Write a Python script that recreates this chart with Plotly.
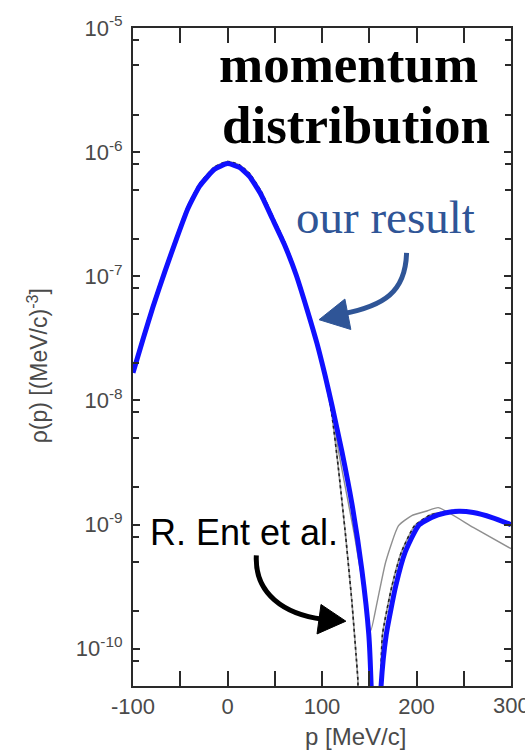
import plotly.graph_objects as go

# ---- data: momentum distribution rho(p) in (MeV/c)^-3 ----
p_ours = [-100, -89.5, -78.9, -66.3, -53.7, -42, -29.5, -13.7, 0, 12.6, 23.2, 35.8,
          47.4, 60, 72.6, 84, 94.7, 103, 110.5, 121, 131.6, 142.1, 149.5, 152, 157,
          162.5, 168, 178, 188, 202, 216, 230, 245, 260, 280, 300]
rho_ours = [1.67e-8, 3.1e-8, 5.66e-8, 1.09e-7, 2.03e-7, 3.5e-7, 5.33e-7, 7.27e-7,
            8.10e-7, 7.53e-7, 6.38e-7, 4.5e-7, 2.92e-7, 1.82e-7, 1.03e-7, 5.46e-8,
            2.88e-8, 1.62e-8, 9.16e-9, 3.9e-9, 1.48e-9, 4.37e-10, 1.31e-10, 5e-11,
            1e-12, 5e-11, 1.3e-10, 3.2e-10, 6.0e-10, 9.8e-10, 1.14e-9, 1.24e-9,
            1.28e-9, 1.25e-9, 1.14e-9, 1.0e-9]

p_ent1 = [-100, -89.5, -78.9, -66.3, -53.7, -42, -29.5, -13.7, 0, 12.6, 23.2, 35.8,
          47.4, 60, 72.6, 84, 94.7, 103, 110.5, 117, 125, 131.6, 136, 138, 140.5,
          158, 162, 164, 174, 184, 198, 215, 230, 260, 300]
rho_ent1 = [1.77e-8, 3.3e-8, 6.0e-8, 1.15e-7, 2.15e-7, 3.7e-7, 5.6e-7, 7.6e-7,
            8.4e-7, 7.9e-7, 6.75e-7, 4.8e-7, 3.1e-7, 1.93e-7, 1.09e-7, 5.7e-8,
            2.9e-8, 1.55e-8, 7.6e-9, 3.0e-9, 8.1e-10, 2.4e-10, 9e-11, 5.5e-11, 1e-12,
            1e-12, 5e-11, 1.3e-10, 3.2e-10, 6.0e-10, 9.8e-10, 1.2e-9, 1.26e-9,
            1.24e-9, 1.0e-9]

p_ent2 = [-100, -89.5, -78.9, -66.3, -53.7, -42, -29.5, -13.7, 0, 12.6, 23.2, 35.8,
          47.4, 60, 72.6, 84, 94.7, 103, 110.5, 118, 134, 145, 151.6, 158, 167.4,
          181, 195, 210, 223, 260, 300]
rho_ent2 = [1.67e-8, 3.1e-8, 5.66e-8, 1.09e-7, 2.03e-7, 3.5e-7, 5.33e-7, 7.27e-7,
            8.10e-7, 7.53e-7, 6.38e-7, 4.5e-7, 2.92e-7, 1.82e-7, 1.03e-7, 5.46e-8,
            2.88e-8, 1.6e-8, 8.5e-9, 3.7e-9, 8.5e-10, 2.7e-10, 1.4e-10, 2.3e-10,
            5.0e-10, 9.8e-10, 1.18e-9, 1.28e-9, 1.37e-9, 9.5e-10, 6.4e-10]

x_ticks = [-100, 0, 100, 200]
x_ticktext = ["-100", "0", "100", "200"]
x_last = 300
x_minor = [-50, 50, 150, 250]
y_ticks = [1e-10, 1e-9, 1e-8, 1e-7, 1e-6, 1e-5]
y_ticktext = ["10<sup>-10</sup>", "10<sup>-9</sup>", "10<sup>-8</sup>",
              "10<sup>-7</sup>", "10<sup>-6</sup>", "10<sup>-5</sup>"]
y_minor = [m * 10.0 ** e for e in range(-11, -5) for m in (2, 5, 8)]

# ---- layout geometry (pixels) ----
W, H = 525, 752
L, R, T, B = 133, 513, 16, 686
X_MIN, X_MAX = -100, 300


def px(x):
    return (x - L) / (R - L)


def py(y):
    return (B - y) / (B - T)


fig = go.Figure()

fig.add_trace(go.Scatter(x=p_ent2, y=rho_ent2, mode="lines",
                         line=dict(color="#8f8f8f", width=1.4, shape="spline", smoothing=0.5),
                         showlegend=False))
fig.add_trace(go.Scatter(x=p_ent1, y=rho_ent1, mode="lines",
                         line=dict(color="#9a9a9a", width=1.6, shape="spline", smoothing=0.5),
                         showlegend=False))
fig.add_trace(go.Scatter(x=p_ent1, y=rho_ent1, mode="lines",
                         line=dict(color="#222222", width=1.6, dash="dot", shape="spline",
                                   smoothing=0.5),
                         showlegend=False))
fig.add_trace(go.Scatter(x=p_ours, y=rho_ours, mode="lines",
                         line=dict(color="#1010ff", width=5, shape="spline", smoothing=0.5),
                         showlegend=False))

tick_font = dict(family="Liberation Sans, Arial, sans-serif", size=22, color="#4a4a4a")
axis_common = dict(showline=True, linecolor="#2a2a2a", linewidth=2, mirror="ticks",
                   ticks="inside", tickcolor="#2a2a2a", tickwidth=2,
                   showgrid=False, zeroline=False, tickfont=tick_font)

fig.update_xaxes(range=[X_MIN, X_MAX], tickmode="array", tickvals=x_ticks + [x_last],
                 ticktext=x_ticktext + [""], ticklen=15,
                 minor=dict(tickmode="array", tickvals=x_minor, ticks="inside",
                            ticklen=15, tickwidth=2, tickcolor="#2a2a2a"),
                 **axis_common)
fig.update_yaxes(type="log", range=[-10.30, -5], tickmode="array", tickvals=y_ticks,
                 ticktext=y_ticktext, ticklen=7, ticklabelstandoff=4,
                 minor=dict(tickmode="array", tickvals=y_minor, ticks="inside",
                            ticklen=6, tickwidth=2, tickcolor="#2a2a2a"),
                 **axis_common)

ann = []
# last x tick label sits on the figure edge
ann.append(dict(text=str(x_last), x=x_last, y=py(706), xref="x", yref="paper",
                showarrow=False, xanchor="center", yanchor="middle", font=tick_font))
# axis titles
ann.append(dict(text="p [MeV/c]", x=px(357), y=py(737), xref="paper", yref="paper",
                showarrow=False, xanchor="center", yanchor="middle",
                font=dict(family="Liberation Sans, Arial, sans-serif", size=24,
                          color="#4a4a4a")))
ann.append(dict(text="ρ(p) [(MeV/c)<sup>-3</sup>]", x=px(37), y=py(360), xref="paper",
                yref="paper", showarrow=False, textangle=-90,
                xanchor="center", yanchor="middle",
                font=dict(family="Liberation Sans, Arial, sans-serif", size=23,
                          color="#4a4a4a")))
# labels inside the plot
ann.append(dict(text="<b>momentum</b>", x=px(350), y=py(53), xref="paper", yref="paper",
                showarrow=False, xanchor="center", yanchor="middle",
                font=dict(family="Liberation Serif, Times New Roman, serif", size=53,
                          color="black")))
ann.append(dict(text="<b>distribution</b>", x=px(357), y=py(115), xref="paper",
                yref="paper", showarrow=False, xanchor="center", yanchor="middle",
                font=dict(family="Liberation Serif, Times New Roman, serif", size=53,
                          color="black")))
ann.append(dict(text="our result", x=px(387), y=py(208), xref="paper", yref="paper",
                showarrow=False, xanchor="center", yanchor="middle",
                font=dict(family="Liberation Serif, Times New Roman, serif", size=47,
                          color="#2f5597")))
ann.append(dict(text="R. Ent et al.", x=px(245), y=py(530), xref="paper", yref="paper",
                showarrow=False, xanchor="center", yanchor="middle",
                font=dict(family="Liberation Sans, Arial, sans-serif", size=36,
                          color="black")))


def curve(pts):
    (x0, y0), (x1, y1), (x2, y2), (x3, y3) = pts
    return (f"M {px(x0)},{py(y0)} C {px(x1)},{py(y1)} {px(x2)},{py(y2)} "
            f"{px(x3)},{py(y3)}")


def tri(pts):
    s = " L ".join(f"{px(x)},{py(y)}" for x, y in pts)
    return f"M {s} Z"


shapes = [
    # curved arrow pointing to our result
    dict(type="path", xref="paper", yref="paper",
         path=curve([(408, 245), (407, 285), (385, 299), (344, 307)]),
         line=dict(color="#2f5597", width=5)),
    dict(type="path", xref="paper", yref="paper",
         path=tri([(320, 313), (346, 292), (352, 323)]),
         fillcolor="#2f5597", line=dict(color="#2f5597", width=1)),
    # curved arrow pointing to R. Ent et al.
    dict(type="path", xref="paper", yref="paper",
         path=curve([(257, 553), (255, 592), (285, 613), (324, 618)]),
         line=dict(color="black", width=5)),
    dict(type="path", xref="paper", yref="paper",
         path=tri([(347, 620), (322, 603), (318, 633)]),
         fillcolor="black", line=dict(color="black", width=1)),
]

fig.update_layout(width=W, height=H, margin=dict(l=L, r=W - R, t=T, b=H - B),
                  paper_bgcolor="white", plot_bgcolor="white",
                  annotations=ann, shapes=shapes)

fig.write_html("out.html")
